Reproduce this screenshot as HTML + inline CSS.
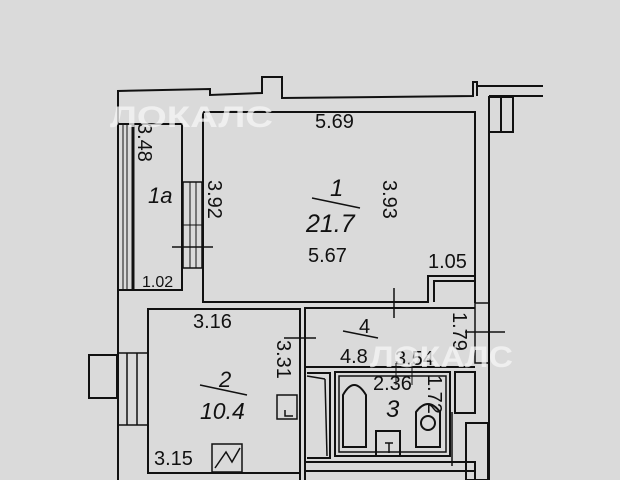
<!DOCTYPE html>
<html><head><meta charset="utf-8"><style>
html,body{margin:0;padding:0;background:#dadada;}
svg{display:block}
text{font-family:"Liberation Sans",sans-serif;fill:#111}
</style></head><body>
<svg width="620" height="480" viewBox="0 0 620 480" xmlns="http://www.w3.org/2000/svg">
<rect width="620" height="480" fill="#dadada"/>
<g fill="none" stroke="#111" stroke-width="2">
<polyline points="118,480 118,91 210,89 210,95 262,93 262,77 282,77 282,98 473,96 473,82 477,82 477,96"/>
<line x1="477" y1="86" x2="543" y2="86"/>
<line x1="489" y1="96" x2="543" y2="96"/>
<line x1="489" y1="96" x2="489" y2="480"/>
<polyline points="489,97 513,97 513,132 489,132"/>
<line x1="501" y1="97" x2="501" y2="132"/>
<polyline points="203,112 475,112 475,303"/>
<polyline points="203,112 203,302 428,302 428,276 475,276"/>
<polyline points="434,302 434,281 475,281"/>
<rect x="118" y="124" width="64" height="166"/>
<line x1="123" y1="124" x2="123" y2="290" stroke-width="1"/>
<line x1="127" y1="124" x2="127" y2="290" stroke-width="1"/>
<line x1="133" y1="124" x2="133" y2="290" stroke-width="3"/>
<rect x="183" y="182" width="19" height="86" stroke-width="1.5"/>
<line x1="190" y1="182" x2="190" y2="268" stroke-width="1"/>
<line x1="196" y1="182" x2="196" y2="268" stroke-width="1"/>
<line x1="183" y1="225" x2="202" y2="225" stroke-width="1"/>
<line x1="172" y1="247" x2="213" y2="247" stroke-width="1.5"/>
<rect x="148" y="309" width="152" height="164"/>
<line x1="300" y1="309" x2="300" y2="480"/>
<rect x="89" y="355" width="28" height="43"/>
<line x1="127" y1="353" x2="127" y2="425" stroke-width="1.5"/>
<line x1="137" y1="353" x2="137" y2="425" stroke-width="1.5"/>
<line x1="118" y1="353" x2="148" y2="353" stroke-width="1.5"/>
<line x1="118" y1="425" x2="148" y2="425" stroke-width="1.5"/>
<polyline points="305,480 305,308 475,308"/>
<line x1="305" y1="367" x2="475" y2="367"/>
<line x1="284" y1="338" x2="316" y2="338" stroke-width="1.5"/>
<line x1="394" y1="288" x2="394" y2="318" stroke-width="1.5"/>
<line x1="465" y1="332" x2="505" y2="332" stroke-width="1.5"/>
<rect x="475" y="303" width="14" height="60" stroke-width="1.5"/>
<rect x="335" y="372" width="115" height="84"/>
<rect x="339" y="376" width="107" height="76" stroke-width="1.5"/>
<polyline points="307,373 330,373 330,458 307,458" />
<line x1="307" y1="376" x2="325" y2="379" stroke-width="1.5"/>
<line x1="325" y1="379" x2="327" y2="456" stroke-width="1.5"/>
<path d="M343,447 L343,395 Q354,375 366,395 L366,447 Z"/>
<rect x="376" y="431" width="24" height="25"/>
<path d="M385,443 h8 M389,443 v10" stroke-width="1.5"/>
<path d="M416,447 L416,412 Q428,396 440,412 L440,447 Z"/>
<circle cx="428" cy="423" r="7"/>
<line x1="416" y1="447" x2="440" y2="447" stroke-width="1.5"/>
<rect x="455" y="372" width="20" height="41"/>
<rect x="466" y="423" width="22" height="57"/>
<polyline points="305,462 475,462 475,480" />
<line x1="305" y1="471" x2="475" y2="471" />
<line x1="452" y1="412" x2="452" y2="466" stroke-width="1.5"/>
<rect x="277" y="395" width="20" height="24" stroke-width="1.5"/>
<path d="M285,410 v6 h8" stroke-width="1.5"/>
<rect x="212" y="444" width="30" height="28" stroke-width="1.5"/>
<polyline points="215,468 226,452 232,462 240,448" stroke-width="1.5"/>
<line x1="396" y1="363" x2="396" y2="385" stroke-width="1"/>
<line x1="412" y1="363" x2="412" y2="385" stroke-width="1"/>
<line x1="312" y1="198" x2="360" y2="208" stroke-width="1.5"/>
<line x1="200" y1="385" x2="247" y2="395" stroke-width="1.5"/>
<line x1="343" y1="331" x2="378" y2="338" stroke-width="1.5"/>
</g>
<g font-size="20">
<text x="315" y="128">5.69</text>
<text x="308" y="262">5.67</text>
<text x="428" y="268">1.05</text>
<text x="142" y="287" font-size="16">1.02</text>
<text x="330" y="196" font-size="24" font-style="italic">1</text>
<text x="306" y="232" font-size="25" font-style="italic">21.7</text>
<text x="193" y="328">3.16</text>
<text x="219" y="387" font-size="22" font-style="italic">2</text>
<text x="200" y="419" font-size="23" font-style="italic">10.4</text>
<text x="154" y="465">3.15</text>
<text x="359" y="333">4</text>
<text x="340" y="363">4.8</text>
<text x="395" y="365">3.54</text>
<text x="373" y="390">2.36</text>
<text x="386" y="417" font-size="24" font-style="italic">3</text>
<text x="148" y="203" font-size="22" font-style="italic">1a</text>
<text transform="translate(138,123) rotate(90)">3.48</text>
<text transform="translate(208,180) rotate(90)">3.92</text>
<text transform="translate(383,180) rotate(90)">3.93</text>
<text transform="translate(277,340) rotate(90)">3.31</text>
<text transform="translate(453,312) rotate(90)">1.79</text>
<text transform="translate(428,375) rotate(90)">1.72</text>
</g>
<g font-size="30" font-weight="bold" opacity="0.75">
<text x="110" y="127" textLength="163" lengthAdjust="spacingAndGlyphs" style="fill:#f6f6f6">ЛОКАЛС</text>
<text x="370" y="367" textLength="143" lengthAdjust="spacingAndGlyphs" style="fill:#f6f6f6">ЛОКАЛС</text>
</g>
</svg>
</body></html>
